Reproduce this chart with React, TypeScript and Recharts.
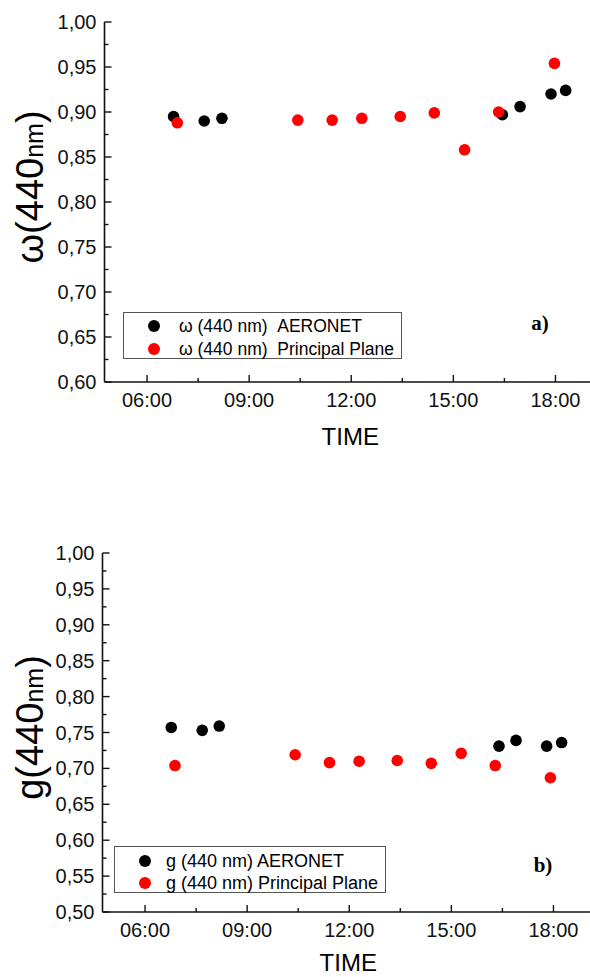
import React from 'react'
import { ScatterChart, Scatter, XAxis, YAxis, Legend } from 'recharts'

const FONT = 'Arial, "Liberation Sans", sans-serif'
const SERIF = '"Times New Roman", "Liberation Serif", serif'
const AXIS = '#111'

// panel a) single scattering albedo at 440 nm
const hoursAeronetA = [6.78, 7.68, 8.2, 16.44, 16.96, 17.87, 18.3]
const omegaAeronet = [0.895, 0.89, 0.893, 0.897, 0.906, 0.92, 0.924]
const hoursPlaneA = [6.89, 10.43, 11.44, 12.31, 13.44, 14.44, 15.33, 16.33, 17.97]
const omegaPlane = [0.888, 0.891, 0.891, 0.893, 0.895, 0.899, 0.858, 0.9, 0.954]

// panel b) asymmetry parameter at 440 nm
const hoursAeronetB = [6.77, 7.68, 8.18, 16.4, 16.9, 17.8, 18.24]
const gAeronet = [0.757, 0.753, 0.759, 0.731, 0.739, 0.731, 0.736]
const hoursPlaneB = [6.88, 10.41, 11.42, 12.29, 13.41, 14.41, 15.29, 16.29, 17.91]
const gPlane = [0.704, 0.719, 0.708, 0.71, 0.711, 0.707, 0.721, 0.704, 0.687]

const timeTicks = [6, 7.5, 9, 10.5, 12, 13.5, 15, 16.5, 18]
const timeMajor = [6, 9, 12, 15, 18]
const omegaTicks = [0.6, 0.625, 0.65, 0.675, 0.7, 0.725, 0.75, 0.775, 0.8, 0.825, 0.85, 0.875, 0.9, 0.925, 0.95, 0.975, 1.0]
const gTicks = [0.5, 0.525, 0.55, 0.575, 0.6, 0.625, 0.65, 0.675, 0.7, 0.725, 0.75, 0.775, 0.8, 0.825, 0.85, 0.875, 0.9, 0.925, 0.95, 0.975, 1.0]

const toPoints = (hours: number[], values: number[]) => hours.map((h, i) => ({ h, v: values[i] }))

const isMajorValue = (v: number) => Math.abs(v * 20 - Math.round(v * 20)) < 1e-6

const TimeTick = (props: any) => {
  const { x, y, payload } = props
  const major = timeMajor.includes(payload.value)
  return (
    <g>
      <line x1={x} x2={x} y1={y} y2={y - (major ? 7 : 4)} stroke={AXIS} strokeWidth={1.4} />
      {major && (
        <text x={x} y={y + 18} textAnchor="middle" dominantBaseline="central" fontSize={20} fontFamily={FONT} fill="#111">
          {String(payload.value).padStart(2, '0') + ':00'}
        </text>
      )}
    </g>
  )
}

const TopTick = (props: any) => {
  const { x, y, payload } = props
  const major = timeMajor.includes(payload.value)
  return <line x1={x} x2={x} y1={y} y2={y + (major ? 4 : 3)} stroke={AXIS} strokeWidth={1.2} />
}

const ValueTick = (props: any) => {
  const { x, y, payload } = props
  const major = isMajorValue(payload.value)
  return (
    <g>
      <line x1={x} x2={x + (major ? 7 : 4)} y1={y} y2={y} stroke={AXIS} strokeWidth={1.4} />
      {major && (
        <text x={x - 8} y={y} textAnchor="end" dominantBaseline="central" fontSize={20} fontFamily={FONT} fill="#111">
          {payload.value.toFixed(2).replace('.', ',')}
        </text>
      )}
    </g>
  )
}

const YTitle = (props: any) => {
  const { viewBox, symbol, shift } = props
  if (!viewBox) return null
  const cx = viewBox.x + 43
  const cy = viewBox.y + viewBox.height / 2 + shift
  return (
    <text x={cx} y={cy} transform={`rotate(-90 ${cx} ${cy})`} textAnchor="middle" fontFamily={FONT} fontSize={38} fill="#000">
      {symbol}(440<tspan fontSize={25}>nm</tspan>)
    </text>
  )
}

const XTitle = (props: any) => {
  const { viewBox, offsetY } = props
  if (!viewBox) return null
  return (
    <text x={viewBox.x + viewBox.width / 2 - 1} y={viewBox.y + offsetY} textAnchor="middle" dominantBaseline="central" fontFamily={FONT} fontSize={24} fill="#000">
      TIME
    </text>
  )
}

const LegendBox = (props: any) => {
  const { payload, dotX, textX, rows, fontSize, width, height } = props
  return (
    <div style={{ position: 'relative', width, height, boxSizing: 'border-box', border: '1px solid #555', background: '#fff', fontFamily: FONT, fontSize, color: '#000' }}>
      {(payload || []).map((item: any, i: number) => (
        <div key={item.value} style={{ position: 'absolute', left: 0, top: rows[i] - 11, height: 22, lineHeight: '22px', whiteSpace: 'pre' }}>
          <span style={{ position: 'absolute', left: dotX - 6, top: 5, width: 12, height: 12, borderRadius: '50%', background: item.color }} />
          <span style={{ position: 'absolute', left: textX }}>{item.value}</span>
        </div>
      ))}
    </div>
  )
}

const dot = (color: string) => (p: any) => <circle cx={p.cx} cy={p.cy} r={5.8} fill={color} />

const Panel = (props: any) => {
  const { top, width, plotHeight, axisWidth, domain, ticks, symbol, titleShift, timeOffset, aeronet, plane, names, legend, tag } = props
  const height = 22 + plotHeight + 80
  return (
    <div style={{ position: 'absolute', left: 0, top, width, height }}>
      <ScatterChart width={width} height={height} margin={{ top: 22, right: 20, bottom: 0, left: 0 }}>
        <XAxis
          type="number" dataKey="h" domain={[4.75, 19.25]} ticks={timeTicks} interval={0}
          height={80} tickLine={false} tickSize={0} tickMargin={0}
          axisLine={{ stroke: AXIS, strokeWidth: 1.6 }}
          tick={(p: any) => <TimeTick {...p} />}
          label={<XTitle offsetY={timeOffset} />}
        />
        <XAxis
          xAxisId="top" orientation="top" type="number" domain={[4.75, 19.25]} allowDataOverflow
          ticks={timeTicks} interval={0} height={0} tickLine={false} tickSize={0} tickMargin={0}
          axisLine={{ stroke: AXIS, strokeWidth: 1.6 }}
          tick={(p: any) => <TopTick {...p} />}
        />
        <YAxis
          type="number" dataKey="v" domain={domain} ticks={ticks} interval={0} width={axisWidth}
          tickLine={false} tickSize={0} tickMargin={0}
          axisLine={{ stroke: AXIS, strokeWidth: 1.6 }}
          tick={(p: any) => <ValueTick {...p} />}
          label={<YTitle symbol={symbol} shift={titleShift} />}
        />
        <Legend
          layout="vertical" align="center" verticalAlign="middle"
          wrapperStyle={{ left: legend.left, top: legend.top, width: legend.width, height: legend.height }}
          content={(p: any) => <LegendBox {...p} {...legend} />}
        />
        <Scatter name={names[0]} data={aeronet} fill="#000000" shape={dot('#000000')} isAnimationActive={false} />
        <Scatter name={names[1]} data={plane} fill="#ff0000" shape={dot('#ff0000')} isAnimationActive={false} />
      </ScatterChart>
      <div style={{ position: 'absolute', left: tag.x, top: tag.y, transform: 'translate(-50%, -50%)', fontFamily: SERIF, fontWeight: 'bold', fontSize: 21, color: '#000', whiteSpace: 'pre' }}>
        {tag.text}
      </div>
    </div>
  )
}

export default function App() {
  return (
    <div style={{ position: 'absolute', left: 0, top: 0, width: 590, height: 977, overflow: 'hidden', background: '#fff' }}>
      <Panel
        top={0} width={618} plotHeight={360} axisWidth={104.5}
        domain={[0.6, 1.0]} ticks={omegaTicks} symbol="ω" titleShift={-15} timeOffset={54}
        aeronet={toPoints(hoursAeronetA, omegaAeronet)}
        plane={toPoints(hoursPlaneA, omegaPlane)}
        names={['ω (440 nm)  AERONET', 'ω (440 nm)  Principal Plane']}
        legend={{ left: 123, top: 312, width: 279, height: 47, dotX: 30, textX: 55, rows: [13.3, 35.6], fontSize: 17.5 }}
        tag={{ x: 540, y: 323, text: 'a)' }}
      />
      <Panel
        top={531} width={616} plotHeight={359} axisWidth={102.5}
        domain={[0.5, 1.0]} ticks={gTicks} symbol="g" titleShift={-5} timeOffset={50}
        aeronet={toPoints(hoursAeronetB, gAeronet)}
        plane={toPoints(hoursPlaneB, gPlane)}
        names={['g (440 nm) AERONET', 'g (440 nm) Principal Plane']}
        legend={{ left: 114, top: 315, width: 272, height: 47, dotX: 30, textX: 51, rows: [14, 35.7], fontSize: 18 }}
        tag={{ x: 543, y: 334, text: 'b)' }}
      />
    </div>
  )
}
